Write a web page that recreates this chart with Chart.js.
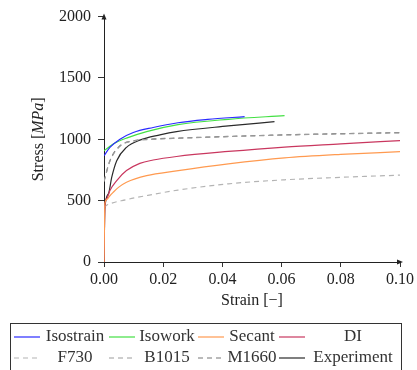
<!DOCTYPE html>
<html>
<head>
<meta charset="utf-8">
<script src="https://cdn.jsdelivr.net/npm/chart.js@4.4.0/dist/chart.umd.min.js"></script>
<style>
  html, body { margin: 0; padding: 0; background: #fff; }
  canvas { display: block; }
</style>
</head>
<body>
<canvas id="stress-strain" width="417" height="370"></canvas>
<script>
// strain [-] / stress [MPa] for each model curve
const strainIsostrain = [0, 0.002, 0.0054, 0.0099, 0.0166, 0.025, 0.035, 0.0475];
const stressIsostrain = [866, 934, 1001, 1055, 1096, 1135, 1162, 1185];

const strainIsowork = [0, 0.0031, 0.0076, 0.0144, 0.025, 0.042, 0.061];
const stressIsowork = [907, 961, 1010, 1063, 1120, 1163, 1193];

const strainSecant = [0, 0.0003, 0.001, 0.002, 0.003, 0.005, 0.0076, 0.0144, 0.0245, 0.042, 0.061, 0.08, 0.1];
const stressSecant = [0, 480, 510, 540, 565, 610, 650, 704, 742, 799, 848, 877, 899];

const strainDI = [0, 0.0003, 0.001, 0.002, 0.0043, 0.0076, 0.0121, 0.0166, 0.0245, 0.042, 0.061, 0.08, 0.1];
const stressDI = [0, 460, 520, 583, 664, 745, 804, 831, 860, 901, 937, 963, 990];

const strainF730 = [0, 0.0009, 0.0076, 0.0166, 0.025, 0.042, 0.061, 0.08, 0.1];
const stressF730 = [445, 462, 508, 551, 586, 637, 670, 690, 708];

const strainB1015 = [0, 0.002, 0.0054, 0.0099, 0.017, 0.025, 0.06, 0.1];
const stressB1015 = [655, 822, 944, 985, 1000, 1008, 1034, 1053];

const strainM1660 = [0, 0.002, 0.0054, 0.0099, 0.017, 0.025, 0.06, 0.1];
const stressM1660 = [660, 826, 947, 988, 1003, 1010, 1036, 1055];

const strainExperiment = [0, 0.0003, 0.0015, 0.0026, 0.0043, 0.0076, 0.0121, 0.0189, 0.0245, 0.042, 0.0576];
const stressExperiment = [0, 440, 556, 690, 826, 934, 993, 1036, 1063, 1109, 1144];

const xTicks = [0, 0.02, 0.04, 0.06, 0.08, 0.1];
const yTicks = [0, 500, 1000, 1500, 2000];

const FONT = "'Liberation Serif', 'DejaVu Serif', serif";

const toPoints = (xs, ys) => xs.map((x, i) => ({ x: x, y: ys[i] }));

const curve = (label, xs, ys, color, dash) => ({
    label: label,
    data: toPoints(xs, ys),
    borderColor: color,
    borderWidth: 1.2,
    borderDash: dash || [],
    pointRadius: 0,
    cubicInterpolationMode: "monotone",
    fill: false
});

const datasets = [
    curve("Isostrain", strainIsostrain, stressIsostrain, "#2a2aff"),
    curve("Isowork", strainIsowork, stressIsowork, "#44e044"),
    curve("Secant", strainSecant, stressSecant, "#ff9a50"),
    curve("DI", strainDI, stressDI, "#c9375f"),
    curve("F730", strainF730, stressF730, "#b4b4b4", [5, 4]),
    curve("B1015", strainB1015, stressB1015, "#9c9c9c", [5, 4]),
    curve("M1660", strainM1660, stressM1660, "#777777", [5, 4]),
    curve("Experiment", strainExperiment, stressExperiment, "#2b2b2b")
];

// arrow heads, rotated y title and the boxed two-row legend
const decorations = {
    id: "decorations",
    afterDraw(chart) {
        const ctx = chart.ctx;
        const area = chart.chartArea;
        ctx.save();

        ctx.fillStyle = "#222";
        ctx.beginPath();
        ctx.moveTo(area.left, area.top - 3);
        ctx.lineTo(area.left - 2.5, area.top + 3);
        ctx.lineTo(area.left + 2.5, area.top + 3);
        ctx.closePath();
        ctx.fill();
        ctx.beginPath();
        ctx.moveTo(area.right + 3, area.bottom);
        ctx.lineTo(area.right - 3, area.bottom - 2.5);
        ctx.lineTo(area.right - 3, area.bottom + 2.5);
        ctx.closePath();
        ctx.fill();

        // "Stress [MPa]" with the unit in italics
        ctx.translate(39, (area.top + area.bottom) / 2);
        ctx.rotate(-Math.PI / 2);
        ctx.textBaseline = "middle";
        ctx.fillStyle = "#222";
        const parts = [["Stress [", ""], ["MPa", "italic "], ["]", ""]];
        let total = 0;
        parts.forEach(p => {
            ctx.font = p[1] + "16px " + FONT;
            total += ctx.measureText(p[0]).width;
        });
        let x = -total / 2;
        parts.forEach(p => {
            ctx.font = p[1] + "16px " + FONT;
            ctx.textAlign = "left";
            ctx.fillText(p[0], x, 0);
            x += ctx.measureText(p[0]).width;
        });
        ctx.setTransform(1, 0, 0, 1, 0, 0);

        // legend box
        ctx.strokeStyle = "#333";
        ctx.lineWidth = 1;
        ctx.setLineDash([]);
        ctx.strokeRect(10.5, 323.5, 391, 60);

        const cols = [[14, 107], [109, 196], [198, 277], [279, 398]];
        const rows = [337, 358];
        ctx.font = "17px " + FONT;
        ctx.textBaseline = "middle";
        ctx.textAlign = "center";
        chart.data.datasets.forEach((ds, i) => {
            const c = cols[i % 4];
            const y = rows[Math.floor(i / 4)];
            const lineEnd = c[0] + 26;
            ctx.strokeStyle = ds.borderColor;
            ctx.lineWidth = 1.2;
            ctx.setLineDash(ds.borderDash);
            ctx.beginPath();
            ctx.moveTo(c[0], y);
            ctx.lineTo(lineEnd, y);
            ctx.stroke();
            ctx.setLineDash([]);
            ctx.fillStyle = "#333";
            ctx.fillText(ds.label, (lineEnd + 3 + c[1]) / 2, y);
        });
        ctx.restore();
    }
};

new Chart(document.getElementById("stress-strain").getContext("2d"), {
    type: "line",
    data: { datasets: datasets },
    plugins: [decorations],
    options: {
        responsive: false,
        animation: false,
        layout: { padding: { left: 0, right: 16, top: 15, bottom: 60 } },
        plugins: {
            legend: { display: false },
            tooltip: { enabled: false }
        },
        scales: {
            x: {
                type: "linear",
                min: 0,
                max: 0.1,
                afterFit: scale => { scale.height = 48; },
                afterBuildTicks: scale => { scale.ticks = xTicks.map(v => ({ value: v })); },
                grid: { drawOnChartArea: false, drawTicks: true, tickLength: 5, color: "#333" },
                border: { color: "#222", width: 1 },
                ticks: {
                    color: "#222",
                    padding: 3,
                    maxRotation: 0,
                    font: { family: FONT, size: 16 },
                    callback: v => v.toFixed(2)
                },
                title: {
                    display: true,
                    text: "Strain [\u2212]",
                    color: "#222",
                    padding: { top: 0, bottom: 0 },
                    font: { family: FONT, size: 16 }
                }
            },
            y: {
                min: 0,
                max: 2000,
                afterFit: scale => { scale.width = 104; },
                afterBuildTicks: scale => { scale.ticks = yTicks.map(v => ({ value: v })); },
                grid: { drawOnChartArea: false, drawTicks: true, tickLength: 6, color: "#333" },
                border: { color: "#222", width: 1 },
                ticks: {
                    color: "#222",
                    padding: 7,
                    font: { family: FONT, size: 16 },
                    callback: v => String(v)
                }
            }
        }
    }
});
</script>
</body>
</html>
